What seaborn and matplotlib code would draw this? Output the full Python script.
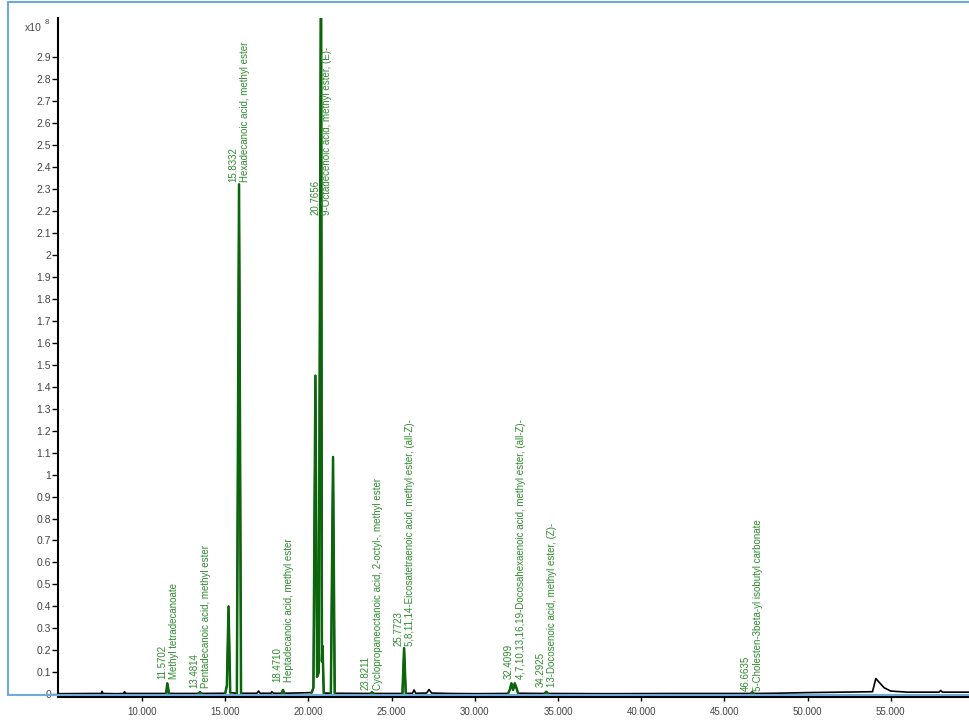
import numpy as np
import pandas as pd
import matplotlib
matplotlib.use("Agg")
import matplotlib.pyplot as plt
from matplotlib.lines import Line2D
import seaborn as sns

# Chromatogram trace (retention time in min, intensity x10^8)
rt = [4.95, 7.0, 7.55, 7.6, 7.65, 8.5, 8.9, 8.95, 9.0, 10.5, 11.45, 11.52, 11.62,
      13.4, 13.48, 13.56, 15.0, 15.1, 15.2, 15.3, 15.7, 15.83, 15.95,
      16.9, 17.0, 17.1, 17.75, 17.8, 17.9, 18.4, 18.47, 18.55,
      20.2, 20.3, 20.42, 20.52, 20.62, 20.76, 20.81, 20.85, 20.92, 21.35, 21.48, 21.58,
      23.75, 23.82, 23.9, 25.65, 25.75, 25.85, 26.25, 26.35, 26.45, 27.1, 27.25, 27.4,
      28.5, 30.0, 32.0, 32.1, 32.2, 32.3, 32.4, 32.5, 32.6, 34.2, 34.29, 34.38,
      38.0, 42.0, 46.6, 46.66, 46.75, 48.0, 50.0, 52.0, 53.9, 54.1, 54.3, 54.6,
      55.0, 56.0, 57.9, 58.0, 58.1, 59.7]
signal = [0.003, 0.004, 0.004, 0.014, 0.004, 0.003, 0.004, 0.012, 0.004, 0.004, 0.004, 0.05, 0.004,
          0.004, 0.01, 0.004, 0.005, 0.04, 0.40, 0.008, 0.005, 2.32, 0.005,
          0.005, 0.015, 0.005, 0.005, 0.012, 0.005, 0.005, 0.02, 0.005,
          0.008, 0.03, 1.45, 0.08, 0.10, 3.5, 0.15, 0.22, 0.006, 0.005, 1.08, 0.005,
          0.004, 0.01, 0.004, 0.004, 0.21, 0.004, 0.005, 0.02, 0.005, 0.006, 0.022, 0.006,
          0.004, 0.003, 0.004, 0.02, 0.05, 0.02, 0.05, 0.03, 0.005, 0.004, 0.012, 0.004,
          0.003, 0.004, 0.004, 0.01, 0.004, 0.005, 0.008, 0.01, 0.012, 0.072, 0.055, 0.03,
          0.015, 0.01, 0.01, 0.018, 0.01, 0.01]

# integrated (identified) peak windows, drawn in green
peak_windows = [(11.45, 11.62), (13.4, 13.56), (15.0, 15.3), (15.7, 15.95), (18.4, 18.55),
                (20.2, 20.92), (21.35, 21.58), (23.75, 23.9), (25.65, 25.85),
                (32.0, 32.6), (34.2, 34.38), (46.6, 46.75)]

# peak annotations
label_rt = [11.5702, 13.4814, 15.8332, 18.4710, 20.7656, 23.8211, 25.7723,
            32.4099, 34.2925, 46.6635]
label_y = [0.068, 0.03, 2.33, 0.055, 2.18, 0.02, 0.22, 0.068, 0.035, 0.015]
label_names = [
    "Methyl tetradecanoate",
    "Pentadecanoic acid, methyl ester",
    "Hexadecanoic acid, methyl ester",
    "Heptadecanoic acid, methyl ester",
    "9-Octadecenoic acid, methyl ester, (E)-",
    "Cyclopropaneoctanoic acid, 2-octyl-, methyl ester",
    "5,8,11,14-Eicosatetraenoic acid, methyl ester, (all-Z)-",
    "4,7,10,13,16,19-Docosahexaenoic acid, methyl ester, (all-Z)-",
    "13-Docosenoic acid, methyl ester, (Z)-",
    "5-Cholesten-3beta-yl isobutyl carbonate",
]

df = pd.DataFrame({"rt": rt, "signal": signal})

sns.set_style("white")
plt.rcParams["font.family"] = ["Liberation Sans", "DejaVu Sans"]

W, H = 969, 720
fig = plt.figure(figsize=(W / 100, H / 100), dpi=100)
fig.patch.set_facecolor("white")

ax = fig.add_axes([58 / W, 23 / H, 1 - 58 / W, (697 - 18) / H])
ax.set_facecolor("white")

sns.lineplot(data=df, x="rt", y="signal", color="black", linewidth=1.2,
             estimator=None, sort=False, ax=ax)
for lo, hi in peak_windows:
    seg = df[(df["rt"] >= lo) & (df["rt"] <= hi)]
    sns.lineplot(data=seg, x="rt", y="signal", color="#0b650b", linewidth=1.8,
                 estimator=None, sort=False, ax=ax)

for x, y, name in zip(label_rt, label_y, label_names):
    ax.text(x, y, f"{x:.4f}\n{name}", rotation=90, ha="center", va="bottom",
            fontsize=7, color="#2f8a2f", linespacing=1.25, multialignment="left")

ax.set_xlim(4.95, 59.7)
ax.set_ylim(-0.012, 3.077)
ax.set_xlabel("")
ax.set_ylabel("")

xt = np.arange(10, 56, 5)
ax.set_xticks(xt)
ax.set_xticklabels([f"{v:.3f}" for v in xt], fontsize=7, color="#444444")
yt = np.round(np.arange(0, 2.95, 0.1), 1)
ax.set_yticks(yt)
ax.set_yticklabels([f"{v:g}" for v in yt], fontsize=7.5, color="#444444")
ax.tick_params(axis="y", direction="out", length=4, width=1, pad=1, color="black", left=True)
ax.tick_params(axis="x", direction="out", length=3, width=1, pad=4, color="black", bottom=True)

for s in ["top", "right"]:
    ax.spines[s].set_visible(False)
for s in ["left", "bottom"]:
    ax.spines[s].set_color("black")
    ax.spines[s].set_linewidth(1.5)

# scale factor label
fig.text(42 / W, 1 - 28 / H, "x10", fontsize=7.5, color="#444444", ha="right", va="center")
fig.text(45 / W, 1 - 22 / H, "8", fontsize=5.5, color="#444444", ha="left", va="center")

# window frame around the chart panel
blue = "#6fa8dc"
fig.add_artist(Line2D([8 / W, 8 / W], [1 - 2 / H, 1 - 695 / H], color=blue, lw=1.5))
fig.add_artist(Line2D([8 / W, 1], [1 - 2 / H, 1 - 2 / H], color=blue, lw=1.5))
fig.add_artist(Line2D([8 / W, 1], [1 - 695 / H, 1 - 695 / H], color=blue, lw=1.5))

fig.savefig("out.png", dpi=100)
